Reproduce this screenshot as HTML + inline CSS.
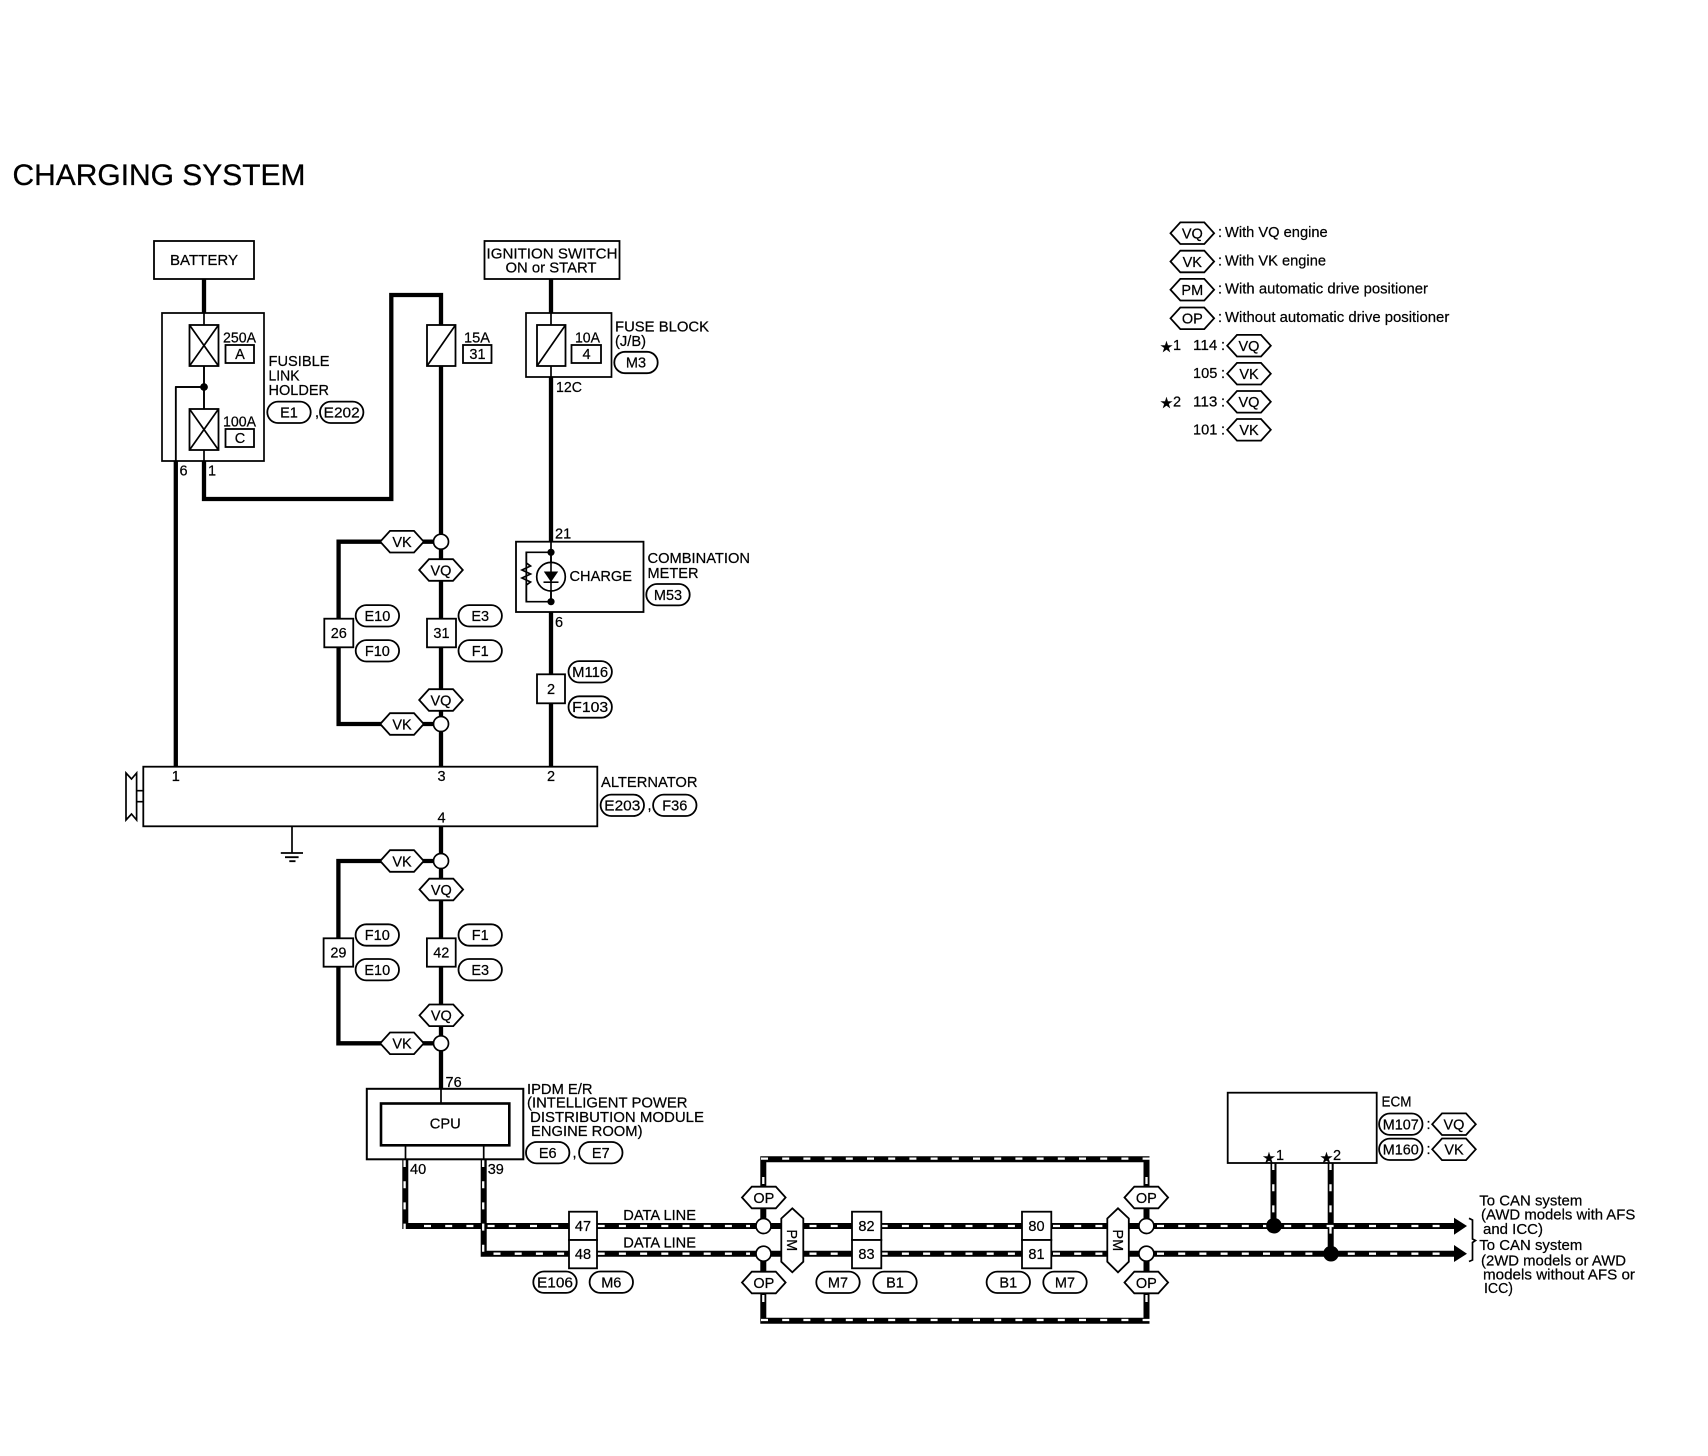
<!DOCTYPE html>
<html><head><meta charset="utf-8"><title>Charging System</title>
<style>
html,body{margin:0;padding:0;background:#fff}
svg{display:block}
text{font-family:"Liberation Sans",sans-serif;font-size:14.5px;fill:#000;stroke:#000;stroke-width:.22}
.m{text-anchor:middle}
.b{fill:#fff;stroke:#000;stroke-width:1.8}
.n{fill:none;stroke:#000;stroke-width:1.7}
.k{fill:none;stroke:#000;stroke-width:4.3}
.d{fill:none;stroke:#000;stroke-width:6}
.w{fill:none;stroke:#fff;stroke-width:2.3;stroke-dasharray:7 14.2}
.h,.p{fill:#fff;stroke:#000;stroke-width:1.8}
.c{fill:#fff;stroke:#000;stroke-width:1.7}
</style></head><body>
<svg width="1708" height="1456" viewBox="0 0 1708 1456" xmlns="http://www.w3.org/2000/svg">
<defs>
<polygon id="hx" points="-21.8,0 -12,-10.8 12,-10.8 21.8,0 12,10.8 -12,10.8"/>
<rect id="pl" x="-21.7" y="-10.7" width="43.4" height="21.4" rx="10.7" ry="10.7"/>
</defs>
<rect width="1708" height="1456" fill="#fff"/>

<text x="12.5" y="185" style="font-size:30px;stroke-width:.3" textLength="293" lengthAdjust="spacingAndGlyphs">CHARGING SYSTEM</text>

<!-- Solid thick wires -->
<path class="k" d="M204,279V313"/>
<path class="k" d="M551,279V313"/>
<path class="k" d="M175.8,461V766"/>
<path class="k" d="M204,461V499H391.3V295H441V325"/>
<path class="k" d="M441,366V766.7"/>
<path class="k" d="M551,377V541.7"/>
<path class="k" d="M551,612V766.7"/>
<path class="k" d="M441,541.7H338.6V724H441"/>
<path class="k" d="M441,826V1088.7"/>
<path class="k" d="M441,861H338.4V1043.3H441"/>

<!-- Thin wires -->
<path class="n" d="M204,313V325M204,366V409M204,450V461M204,387H175.8V461"/>
<path class="n" d="M551,313V325M551,366V377"/>
<path class="n" d="M551,541.7V601.7"/>
<path class="n" d="M551,552.3H526.3V601.7H551"/>
<path class="n" d="M441,1088.7V1103.3M405.5,1145V1159.3M483.7,1145V1159.3"/>

<!-- Data wires black -->
<path class="d" d="M405.3,1159V1226H1455"/>
<path class="d" d="M483.7,1159V1253.7H1455"/>
<path class="d" d="M763.3,1226V1159.3H1146.5V1226"/>
<path class="d" d="M763.3,1253.7V1320.7H1146.5V1253.7"/>
<path class="d" d="M1273.5,1163V1226"/>
<path class="d" d="M1330.7,1163V1253.7"/>

<!-- Data wire white dashes -->
<path class="w" d="M404.6,1160V1229"/>
<path class="w" d="M483.2,1160V1253"/>
<path class="w" d="M424,1226H569"/>
<path class="w" d="M493.5,1253.7H569"/>
<path class="w" d="M597.7,1226H750"/>
<path class="w" d="M597.7,1253.7H750"/>
<path class="w" d="M809.5,1226H852"/>
<path class="w" d="M809.5,1253.7H852"/>
<path class="w" d="M880.7,1226H1022"/>
<path class="w" d="M880.7,1253.7H1022"/>
<path class="w" d="M1053,1226H1107"/>
<path class="w" d="M1053,1253.7H1107"/>
<path class="w" d="M1157,1226H1448"/>
<path class="w" d="M1157,1253.7H1448"/>
<path class="w" d="M761,1158.6H1150"/>
<path class="w" d="M761,1320H1150"/>
<path class="w" d="M763.3,1177V1186M1146.5,1177V1186M763.3,1295V1304M1146.5,1295V1304"/>
<path class="w" d="M1273.3,1163V1222"/>
<path class="w" d="M1330.5,1163V1250"/>

<!-- Arrowheads and brace -->
<polygon points="1454,1217.7 1467,1226 1454,1234.7"/>
<polygon points="1454,1245 1467,1253.7 1454,1262"/>
<path class="n" d="M1469,1218.3L1472.5,1220V1239L1475.5,1240.5L1472.5,1242.5V1260L1469,1261.5"/>

<!-- Black dots -->
<circle cx="1274" cy="1225.7" r="7.8"/>
<circle cx="1331" cy="1253.7" r="7.8"/>
<circle cx="204" cy="387" r="3.8"/>
<circle cx="551" cy="552.3" r="3.6"/>
<circle cx="551" cy="601.7" r="3.6"/>

<!-- Boxes -->
<rect class="b" x="154" y="241" width="100" height="38"/>
<text class="m" x="204" y="265" textLength="68" lengthAdjust="spacingAndGlyphs">BATTERY</text>
<rect class="b" x="484.5" y="241" width="135" height="38"/>
<text x="486.5" y="258.5" textLength="131" lengthAdjust="spacingAndGlyphs">IGNITION SWITCH</text>
<text x="505.5" y="272.5" textLength="91" lengthAdjust="spacingAndGlyphs">ON or START</text>

<!-- Fusible link holder -->
<path class="n" d="M162,313H264V461H162Z"/>
<rect class="b" x="189.5" y="325" width="29" height="41"/>
<path class="n" d="M189.5,325L218.5,366M218.5,325L189.5,366"/>
<rect class="b" x="189.5" y="409" width="29" height="41"/>
<path class="n" d="M189.5,409L218.5,450M218.5,409L189.5,450"/>
<path class="n" d="M204,366V409M204,387H175.8M175.8,387V461"/>
<circle cx="204" cy="387" r="3.8"/>
<text x="223" y="342.5" textLength="33" lengthAdjust="spacingAndGlyphs">250A</text>
<rect class="b" x="225.5" y="345" width="28.5" height="18"/>
<text class="m" x="240" y="359">A</text>
<text x="223" y="426.5" textLength="33" lengthAdjust="spacingAndGlyphs">100A</text>
<rect class="b" x="225.5" y="429" width="28.5" height="18"/>
<text class="m" x="240" y="443">C</text>
<text x="268.5" y="366" textLength="61" lengthAdjust="spacingAndGlyphs">FUSIBLE</text>
<text x="268.5" y="380.5" textLength="31" lengthAdjust="spacingAndGlyphs">LINK</text>
<text x="268.5" y="395" textLength="60.5" lengthAdjust="spacingAndGlyphs">HOLDER</text>
<use href="#pl" class="p" transform="translate(289,412.3)"/><text class="m" x="289" y="417.5">E1</text>
<text x="315" y="417">,</text>
<use href="#pl" class="p" transform="translate(341.7,412.3)"/><text class="m" x="341.7" y="417.5" textLength="36" lengthAdjust="spacingAndGlyphs">E202</text>
<text x="179.5" y="475.5">6</text>
<text x="208" y="475.5">1</text>

<!-- 15A fuse -->
<rect class="b" x="427" y="325" width="28.5" height="41"/>
<path class="n" d="M427,366L455.5,325"/>
<text x="464" y="342.5" textLength="26" lengthAdjust="spacingAndGlyphs">15A</text>
<rect class="b" x="463" y="345" width="28.5" height="18"/>
<text class="m" x="477.5" y="359">31</text>

<!-- Fuse block -->
<path class="n" d="M526,313H611.5V377H526Z"/>
<rect class="b" x="537" y="325" width="28.5" height="41"/>
<path class="n" d="M537,366L565.5,325"/>
<text x="575" y="342.5" textLength="25" lengthAdjust="spacingAndGlyphs">10A</text>
<rect class="b" x="571.5" y="345" width="29.5" height="18"/>
<text class="m" x="586.5" y="359">4</text>
<text x="615" y="331.5" textLength="94" lengthAdjust="spacingAndGlyphs">FUSE BLOCK</text>
<text x="615" y="346" textLength="31" lengthAdjust="spacingAndGlyphs">(J/B)</text>
<use href="#pl" class="p" transform="translate(636,362.5)"/><text class="m" x="636" y="367.5">M3</text>
<text x="556" y="392" textLength="26" lengthAdjust="spacingAndGlyphs">12C</text>

<!-- Combination meter -->
<rect fill="none" stroke="#000" stroke-width="1.8" x="516" y="541.7" width="127.5" height="70.3"/>
<text x="555" y="538.5">21</text>
<path class="n" d="M526.3,552.3V563L530.5,566L522,570L530.5,574L522,578L530.5,582L526.3,585V601.7"/>
<circle class="c" cx="551" cy="576.7" r="14.3"/>
<path class="n" d="M551,552.3V562M551,591V601.7"/>
<polygon points="543.8,571.5 558.2,571.5 551,582"/>
<path d="M543.5,582.2H558.5" stroke="#000" stroke-width="1.6"/>
<path d="M551,562V591" stroke="#000" stroke-width="1.6"/>
<text x="569.5" y="581" textLength="62.5" lengthAdjust="spacingAndGlyphs">CHARGE</text>
<text x="555" y="627">6</text>
<text x="647.5" y="563" textLength="102.5" lengthAdjust="spacingAndGlyphs">COMBINATION</text>
<text x="647.5" y="578" textLength="51" lengthAdjust="spacingAndGlyphs">METER</text>
<use href="#pl" class="p" transform="translate(668,594.7)"/><text class="m" x="668" y="600">M53</text>

<!-- Junction connectors upper -->
<use href="#hx" class="h" transform="translate(402,541.7)"/><text class="m" x="402" y="547">VK</text>
<circle class="c" cx="441" cy="541.7" r="7.5"/>
<use href="#hx" class="h" transform="translate(441,570)"/><text class="m" x="441" y="575.3">VQ</text>
<use href="#hx" class="h" transform="translate(441,700)"/><text class="m" x="441" y="705.3">VQ</text>
<use href="#hx" class="h" transform="translate(402,724)"/><text class="m" x="402" y="729.3">VK</text>
<circle class="c" cx="441" cy="724" r="7.5"/>
<rect class="b" x="324.3" y="618.7" width="29" height="28.6"/>
<text class="m" x="338.8" y="638">26</text>
<rect class="b" x="427" y="618.7" width="29" height="28.6"/>
<text class="m" x="441.5" y="638">31</text>
<use href="#pl" class="p" transform="translate(377.4,615.8)"/><text class="m" x="377.4" y="621">E10</text>
<use href="#pl" class="p" transform="translate(377.4,650.8)"/><text class="m" x="377.4" y="656">F10</text>
<use href="#pl" class="p" transform="translate(480.2,615.8)"/><text class="m" x="480.2" y="621">E3</text>
<use href="#pl" class="p" transform="translate(480.2,650.8)"/><text class="m" x="480.2" y="656">F1</text>

<rect class="b" x="537" y="674.3" width="28" height="29"/>
<text class="m" x="551" y="694">2</text>
<use href="#pl" class="p" transform="translate(590.2,671.8)"/><text class="m" x="590.2" y="677" textLength="36" lengthAdjust="spacingAndGlyphs">M116</text>
<use href="#pl" class="p" transform="translate(590.2,707)"/><text class="m" x="590.2" y="712.2" textLength="36" lengthAdjust="spacingAndGlyphs">F103</text>

<!-- Alternator -->
<rect fill="#fff" stroke="#000" stroke-width="1.8" x="143.3" y="766.7" width="454" height="59.6"/>
<path class="n" d="M126,773L131.5,779L136.6,773V820L131.5,814L126,820Z"/>
<path class="n" d="M136.6,790.7H143.3M136.6,801.7H143.3"/>
<text class="m" x="175.8" y="781">1</text>
<text class="m" x="441.5" y="781">3</text>
<text class="m" x="551" y="781">2</text>
<text class="m" x="441.5" y="822.7">4</text>
<text x="601" y="787" textLength="96.5" lengthAdjust="spacingAndGlyphs">ALTERNATOR</text>
<use href="#pl" class="p" transform="translate(622.3,805.3)"/><text class="m" x="622.3" y="810.5" textLength="36" lengthAdjust="spacingAndGlyphs">E203</text>
<text x="647.5" y="810">,</text>
<use href="#pl" class="p" transform="translate(674.8,805.3)"/><text class="m" x="674.8" y="810.5">F36</text>
<path class="n" d="M292,826.3V853"/>
<path d="M280.8,853H303M285,857.2H298.6M289.3,861.2H295.5" stroke="#000" stroke-width="1.8" fill="none"/>

<!-- Junction connectors lower -->
<use href="#hx" class="h" transform="translate(402,861)"/><text class="m" x="402" y="866.3">VK</text>
<circle class="c" cx="441" cy="861" r="7.5"/>
<use href="#hx" class="h" transform="translate(441.3,889.5)"/><text class="m" x="441.3" y="894.8">VQ</text>
<use href="#hx" class="h" transform="translate(441.3,1015.3)"/><text class="m" x="441.3" y="1020.6">VQ</text>
<use href="#hx" class="h" transform="translate(402,1043.3)"/><text class="m" x="402" y="1048.6">VK</text>
<circle class="c" cx="441" cy="1043.3" r="7.5"/>
<rect class="b" x="323.6" y="938.3" width="29.6" height="28.4"/>
<text class="m" x="338.4" y="957.5">29</text>
<rect class="b" x="426.9" y="938.3" width="28.8" height="28.4"/>
<text class="m" x="441.3" y="957.5">42</text>
<use href="#pl" class="p" transform="translate(377.3,935)"/><text class="m" x="377.3" y="940.2">F10</text>
<use href="#pl" class="p" transform="translate(377.3,969.7)"/><text class="m" x="377.3" y="975">E10</text>
<use href="#pl" class="p" transform="translate(480.2,935)"/><text class="m" x="480.2" y="940.2">F1</text>
<use href="#pl" class="p" transform="translate(480.2,969.7)"/><text class="m" x="480.2" y="975">E3</text>

<!-- IPDM -->
<text x="445.5" y="1087">76</text>
<rect fill="none" stroke="#000" stroke-width="2" x="366.8" y="1088.8" width="156.5" height="70.5"/>
<rect fill="#fff" stroke="#000" stroke-width="2.6" x="381" y="1103.5" width="128.3" height="41.8"/>
<text class="m" x="445.3" y="1128.5" textLength="31" lengthAdjust="spacingAndGlyphs">CPU</text>
<text x="527" y="1094" textLength="65.5" lengthAdjust="spacingAndGlyphs">IPDM E/R</text>
<text x="527" y="1107.7" textLength="160.5" lengthAdjust="spacingAndGlyphs">(INTELLIGENT POWER</text>
<text x="530" y="1122" textLength="174" lengthAdjust="spacingAndGlyphs">DISTRIBUTION MODULE</text>
<text x="531" y="1136" textLength="111.5" lengthAdjust="spacingAndGlyphs">ENGINE ROOM)</text>
<use href="#pl" class="p" transform="translate(547.7,1152.7)"/><text class="m" x="547.7" y="1158">E6</text>
<text x="572.5" y="1157.5">,</text>
<use href="#pl" class="p" transform="translate(600.8,1152.7)"/><text class="m" x="600.8" y="1158">E7</text>
<text x="410" y="1174">40</text>
<text x="487.7" y="1174">39</text>

<!-- Data connectors -->
<text x="623.3" y="1220" textLength="72.7" lengthAdjust="spacingAndGlyphs">DATA LINE</text>
<text x="623.3" y="1247.7" textLength="72.7" lengthAdjust="spacingAndGlyphs">DATA LINE</text>
<rect class="b" x="569" y="1211.7" width="28" height="28.3"/>
<rect class="b" x="569" y="1240" width="28" height="28.3"/>
<text class="m" x="583" y="1231">47</text>
<text class="m" x="583" y="1259">48</text>
<use href="#pl" class="p" transform="translate(555,1282.2)"/><text class="m" x="555" y="1287.4" textLength="36" lengthAdjust="spacingAndGlyphs">E106</text>
<use href="#pl" class="p" transform="translate(611.3,1282.2)"/><text class="m" x="611.3" y="1287.4">M6</text>

<rect class="b" x="852" y="1211.7" width="29.3" height="28.3"/>
<rect class="b" x="852" y="1240" width="29.3" height="28.3"/>
<text class="m" x="866.5" y="1231">82</text>
<text class="m" x="866.5" y="1259">83</text>
<rect class="b" x="1022" y="1211.7" width="29.3" height="28.3"/>
<rect class="b" x="1022" y="1240" width="29.3" height="28.3"/>
<text class="m" x="1036.5" y="1231">80</text>
<text class="m" x="1036.5" y="1259">81</text>
<use href="#pl" class="p" transform="translate(838,1282.3)"/><text class="m" x="838" y="1287.5">M7</text>
<use href="#pl" class="p" transform="translate(895,1282.3)"/><text class="m" x="895" y="1287.5">B1</text>
<use href="#pl" class="p" transform="translate(1008.3,1282.3)"/><text class="m" x="1008.3" y="1287.5">B1</text>
<use href="#pl" class="p" transform="translate(1065,1282.3)"/><text class="m" x="1065" y="1287.5">M7</text>

<circle class="c" cx="763.5" cy="1226" r="7.5"/>
<circle class="c" cx="763.5" cy="1253.7" r="7.5"/>
<circle class="c" cx="1146.4" cy="1226" r="7.5"/>
<circle class="c" cx="1146.4" cy="1253.7" r="7.5"/>
<use href="#hx" class="h" transform="translate(763.8,1197.5)"/><text class="m" x="763.8" y="1202.8">OP</text>
<use href="#hx" class="h" transform="translate(763.8,1282.5)"/><text class="m" x="763.8" y="1287.8">OP</text>
<use href="#hx" class="h" transform="translate(1146.3,1197.5)"/><text class="m" x="1146.3" y="1202.8">OP</text>
<use href="#hx" class="h" transform="translate(1146.3,1282.5)"/><text class="m" x="1146.3" y="1287.8">OP</text>

<polygon class="h" points="792.3,1208.3 803.3,1218.5 803.3,1261.7 792.3,1272.3 781.3,1261.7 781.3,1218.5"/>
<text class="m" transform="translate(787,1240.3) rotate(90)">PM</text>
<polygon class="h" points="1118,1208.3 1128.8,1218.5 1128.8,1261.7 1118,1272.3 1107.3,1261.7 1107.3,1218.5"/>
<text class="m" transform="translate(1112.8,1240.3) rotate(90)">PM</text>

<!-- ECM -->
<rect class="b" x="1227.7" y="1092.7" width="149" height="70.3"/>
<text x="1381.5" y="1106.7" textLength="30" lengthAdjust="spacingAndGlyphs">ECM</text>
<use href="#pl" class="p" transform="translate(1400.8,1124.2)"/><text class="m" x="1400.8" y="1129.4" textLength="36" lengthAdjust="spacingAndGlyphs">M107</text>
<text x="1426.5" y="1129">:</text>
<use href="#hx" class="h" transform="translate(1454,1124.2)"/><text class="m" x="1454" y="1129.5">VQ</text>
<use href="#pl" class="p" transform="translate(1400.8,1149.3)"/><text class="m" x="1400.8" y="1154.5" textLength="36" lengthAdjust="spacingAndGlyphs">M160</text>
<text x="1426.5" y="1154">:</text>
<use href="#hx" class="h" transform="translate(1454,1149.3)"/><text class="m" x="1454" y="1154.6">VK</text>
<text class="m" x="1269" y="1163" style="font-family:'DejaVu Sans',sans-serif;font-size:15px">★</text>
<text x="1276" y="1160">1</text>
<text class="m" x="1326.5" y="1163" style="font-family:'DejaVu Sans',sans-serif;font-size:15px">★</text>
<text x="1333" y="1160">2</text>

<text x="1479.3" y="1205.3" textLength="103" lengthAdjust="spacingAndGlyphs">To CAN system</text>
<text x="1481" y="1219.3" textLength="154.3" lengthAdjust="spacingAndGlyphs">(AWD models with AFS</text>
<text x="1483" y="1234" textLength="60" lengthAdjust="spacingAndGlyphs">and ICC)</text>
<text x="1479.3" y="1250" textLength="103" lengthAdjust="spacingAndGlyphs">To CAN system</text>
<text x="1481" y="1265.3" textLength="145" lengthAdjust="spacingAndGlyphs">(2WD models or AWD</text>
<text x="1483" y="1279.3" textLength="152" lengthAdjust="spacingAndGlyphs">models without AFS or</text>
<text x="1484" y="1293" textLength="29" lengthAdjust="spacingAndGlyphs">ICC)</text>

<!-- Legend -->
<use href="#hx" class="h" transform="translate(1192.3,233.2)"/><text class="m" x="1192.3" y="238.5">VQ</text>
<use href="#hx" class="h" transform="translate(1192.3,261.5)"/><text class="m" x="1192.3" y="266.8">VK</text>
<use href="#hx" class="h" transform="translate(1192.3,289.7)"/><text class="m" x="1192.3" y="295">PM</text>
<use href="#hx" class="h" transform="translate(1192.3,318.3)"/><text class="m" x="1192.3" y="323.6">OP</text>
<text x="1218" y="237">:</text>
<text x="1218" y="265.3">:</text>
<text x="1218" y="293.6">:</text>
<text x="1218" y="322">:</text>
<text x="1225" y="237" textLength="102.7" lengthAdjust="spacingAndGlyphs">With VQ engine</text>
<text x="1225" y="265.3" textLength="101" lengthAdjust="spacingAndGlyphs">With VK engine</text>
<text x="1225" y="293.6" textLength="203" lengthAdjust="spacingAndGlyphs">With automatic drive positioner</text>
<text x="1225" y="322" textLength="224.3" lengthAdjust="spacingAndGlyphs">Without automatic drive positioner</text>
<text class="m" x="1166.5" y="352" style="font-family:'DejaVu Sans',sans-serif;font-size:15px">★</text>
<text x="1173" y="350">1</text>
<text class="m" x="1166.5" y="408" style="font-family:'DejaVu Sans',sans-serif;font-size:15px">★</text>
<text x="1173" y="406.5">2</text>
<text x="1193" y="350" textLength="24.3" lengthAdjust="spacingAndGlyphs">114</text><text x="1221" y="350">:</text>
<text x="1193" y="378" textLength="24.3" lengthAdjust="spacingAndGlyphs">105</text><text x="1221" y="378">:</text>
<text x="1193" y="406.5" textLength="24.3" lengthAdjust="spacingAndGlyphs">113</text><text x="1221" y="406.5">:</text>
<text x="1193" y="434.5" textLength="24.3" lengthAdjust="spacingAndGlyphs">101</text><text x="1221" y="434.5">:</text>
<use href="#hx" class="h" transform="translate(1249,345.7)"/><text class="m" x="1249" y="351">VQ</text>
<use href="#hx" class="h" transform="translate(1249,373.7)"/><text class="m" x="1249" y="379">VK</text>
<use href="#hx" class="h" transform="translate(1249,401.8)"/><text class="m" x="1249" y="407.1">VQ</text>
<use href="#hx" class="h" transform="translate(1249,429.8)"/><text class="m" x="1249" y="435.1">VK</text>
</svg>
</body></html>
